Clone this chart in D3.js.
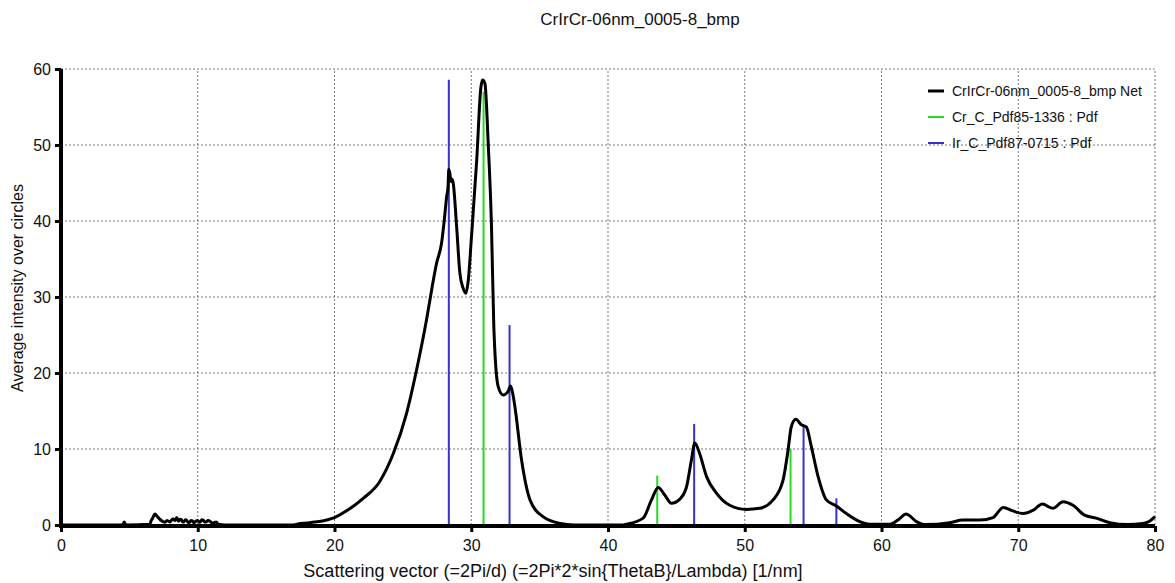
<!DOCTYPE html>
<html><head><meta charset="utf-8">
<script src="https://cdn.jsdelivr.net/npm/d3@7"></script>
<style>body{margin:0;background:#fff}svg{display:block}text{font-family:"Liberation Sans",Arial,sans-serif}</style>
</head><body><svg id="c" width="1175" height="583"></svg>
<script>
const title = "CrIrCr-06nm_0005-8_bmp";
const xLabel = "Scattering vector (=2Pi/d) (=2Pi*2*sin{ThetaB}/Lambda) [1/nm]";
const yLabel = "Average intensity over circles";
const xTicks = [0,10,20,30,40,50,60,70,80];
const yTicks = [0,10,20,30,40,50,60];
const seriesNames = ["CrIrCr-06nm_0005-8_bmp Net","Cr_C_Pdf85-1336 : Pdf","Ir_C_Pdf87-0715 : Pdf"];
const curveX = [0,4.5,4.62,4.75,6.5,6.6,6.7,6.87,7.05,7.2,7.36,7.5,7.6,7.75,7.85,8.0,8.1,8.2,8.35,8.46,8.6,8.7,8.8,8.9,9.0,9.1,9.2,9.3,9.4,9.5,9.6,9.7,9.8,9.9,10.0,10.1,10.2,10.3,10.4,10.5,10.6,10.75,10.9,11.05,11.2,11.35,11.5,12,17.0,17.5,18.0,18.5,19.0,19.5,19.9,21.0,22.1,23.3,24.3,25.27,26.0,26.73,27.1,27.46,27.83,28.05,28.2,28.3,28.36,28.44,28.52,28.6,28.68,28.93,29.17,29.4,29.6,29.8,30.0,30.4,30.7,30.83,31.0,31.24,31.48,31.65,31.97,32.33,32.7,32.87,33.0,33.19,33.68,34.3,35.25,36.5,37.5,41.0,41.35,42.57,43.18,43.67,44.15,44.64,45.25,45.74,46.1,46.35,46.7,47.2,47.93,48.9,50.1,51.1,52.07,52.8,53.17,53.4,53.73,54.14,54.5,54.87,55.36,55.97,56.7,57.43,58.4,59.1,60.6,61.3,61.8,62.55,63.2,65.0,65.95,67.2,68.15,68.9,69.6,70.35,71.1,71.76,72.54,73.27,74.0,74.85,75.7,76.7,78,79.1,79.6,80];
const curveY = [0,0,0.4,0,0.1,0.6,0.9,1.45,1.1,0.8,0.55,0.4,0.35,0.6,0.5,0.4,0.7,0.8,0.6,1.0,0.5,0.75,0.7,0.4,0.45,0.7,0.6,0.3,0.35,0.6,0.55,0.3,0.4,0.55,0.6,0.35,0.45,0.7,0.65,0.4,0.4,0.6,0.5,0.25,0.3,0.4,0.1,0,0,0.2,0.25,0.4,0.5,0.7,0.9,2.0,3.5,5.7,9.4,14.7,20.4,27.0,30.9,34.4,37.1,40.5,43.2,44.5,46.8,46.2,45.2,45.5,45.0,39.3,33.1,31.2,30.5,32.5,37.5,48,57.5,58.55,58.1,50.2,39.3,26.1,18.2,17.1,17.6,18.3,17.6,15.6,8.55,3.3,1.1,0.2,0,0,0.1,0.9,3.3,4.95,3.95,2.85,3.4,5.0,8.55,10.8,9.4,6.4,4.2,2.6,2.05,2.2,3.3,5.9,9.9,12.9,13.9,13.2,12.9,10.3,6.4,3.3,2.5,1.5,0.45,0.1,0.1,0.8,1.45,0.45,0.05,0.3,0.65,0.65,0.97,2.3,1.85,1.5,1.95,2.75,2.2,3.07,2.6,1.3,0.9,0.3,0.05,0.2,0.5,1.1];
const crX = [30.9,43.6,53.35];
const crY = [57,6.5,10.0];
const irX = [28.36,32.8,46.3,54.3,56.7];
const irY = [58.6,26.3,13.3,13.0,3.5];

const colors = {net:"#000000", cr:"#22dd22", ir:"#3434c8"};
const svg = d3.select("#c");
const x = d3.scaleLinear().domain([0,80]).range([61,1155]);
const y = d3.scaleLinear().domain([0,60]).range([525,69]);

const g = svg.append("g");
g.selectAll(".vg").data(xTicks.filter(d=>d>0)).join("line")
  .attr("x1",d=>x(d)).attr("x2",d=>x(d)).attr("y1",y(0)).attr("y2",y(60))
  .attr("stroke","#777").attr("stroke-width",1).attr("stroke-dasharray","2,2");
g.selectAll(".hg").data(yTicks.filter(d=>d>0)).join("line")
  .attr("x1",x(0)).attr("x2",x(80)).attr("y1",d=>y(d)).attr("y2",d=>y(d))
  .attr("stroke","#777").attr("stroke-width",1).attr("stroke-dasharray","2,2");

const sticks = svg.append("g");
sticks.selectAll(".ir").data(irX.map((v,i)=>[v,irY[i]])).join("line")
  .attr("x1",d=>x(d[0])).attr("x2",d=>x(d[0])).attr("y1",y(0)).attr("y2",d=>y(d[1]))
  .attr("stroke",colors.ir).attr("stroke-width",2);
sticks.selectAll(".cr").data(crX.map((v,i)=>[v,crY[i]])).join("line")
  .attr("x1",d=>x(d[0])).attr("x2",d=>x(d[0])).attr("y1",y(0)).attr("y2",d=>y(d[1]))
  .attr("stroke",colors.cr).attr("stroke-width",2);

const pts = curveX.map((v,i)=>[v,curveY[i]]);
svg.append("path").datum(pts)
  .attr("d",d3.line().x(d=>x(d[0])).y(d=>y(d[1])).curve(d3.curveMonotoneX))
  .attr("fill","none").attr("stroke",colors.net).attr("stroke-width",3).attr("stroke-linejoin","round");

const xAxis = svg.append("g").attr("transform",`translate(0,${y(0)+1})`)
  .call(d3.axisBottom(x).tickValues(xTicks).tickSize(6).tickPadding(8).tickFormat(d3.format("d")));
const yAxis = svg.append("g").attr("transform",`translate(${x(0)},0)`)
  .call(d3.axisLeft(y).tickValues(yTicks).tickSize(6).tickPadding(4).tickFormat(d3.format("d")));
[xAxis,yAxis].forEach(a=>{
  a.select(".domain").attr("stroke","#000").attr("stroke-width",4);
  a.selectAll(".tick line").attr("stroke","#000").attr("stroke-width",3);
  a.selectAll(".tick text").attr("fill","#111").style("font-size","16px").style("font-family","Liberation Sans, Arial, sans-serif");
});
xAxis.select(".domain").attr("d",`M${x(0)},0H${x(80)}`);
yAxis.select(".domain").attr("d",`M0,${y(0)+3}V${y(60)}`);

svg.append("text").attr("x",640).attr("y",25).attr("text-anchor","middle").style("font-size","17px").attr("fill","#111").text(title);
svg.append("text").attr("x",553).attr("y",577).attr("text-anchor","middle").style("font-size","18px").attr("fill","#111").text(xLabel);
svg.append("text").attr("transform","translate(23,288) rotate(-90)").attr("text-anchor","middle").style("font-size","16px").attr("fill","#111").text(yLabel);

const lg = svg.append("g");
const lc = [colors.net,colors.cr,colors.ir];
const lw = [3,2,2];
seriesNames.forEach((n,i)=>{
  const yy = 91 + i*26;
  lg.append("line").attr("x1",928).attr("x2",944).attr("y1",yy).attr("y2",yy).attr("stroke",lc[i]).attr("stroke-width",lw[i]);
  lg.append("text").attr("x",952).attr("y",yy+5).style("font-size","14px").attr("fill","#111").text(n);
});
</script></body></html>
